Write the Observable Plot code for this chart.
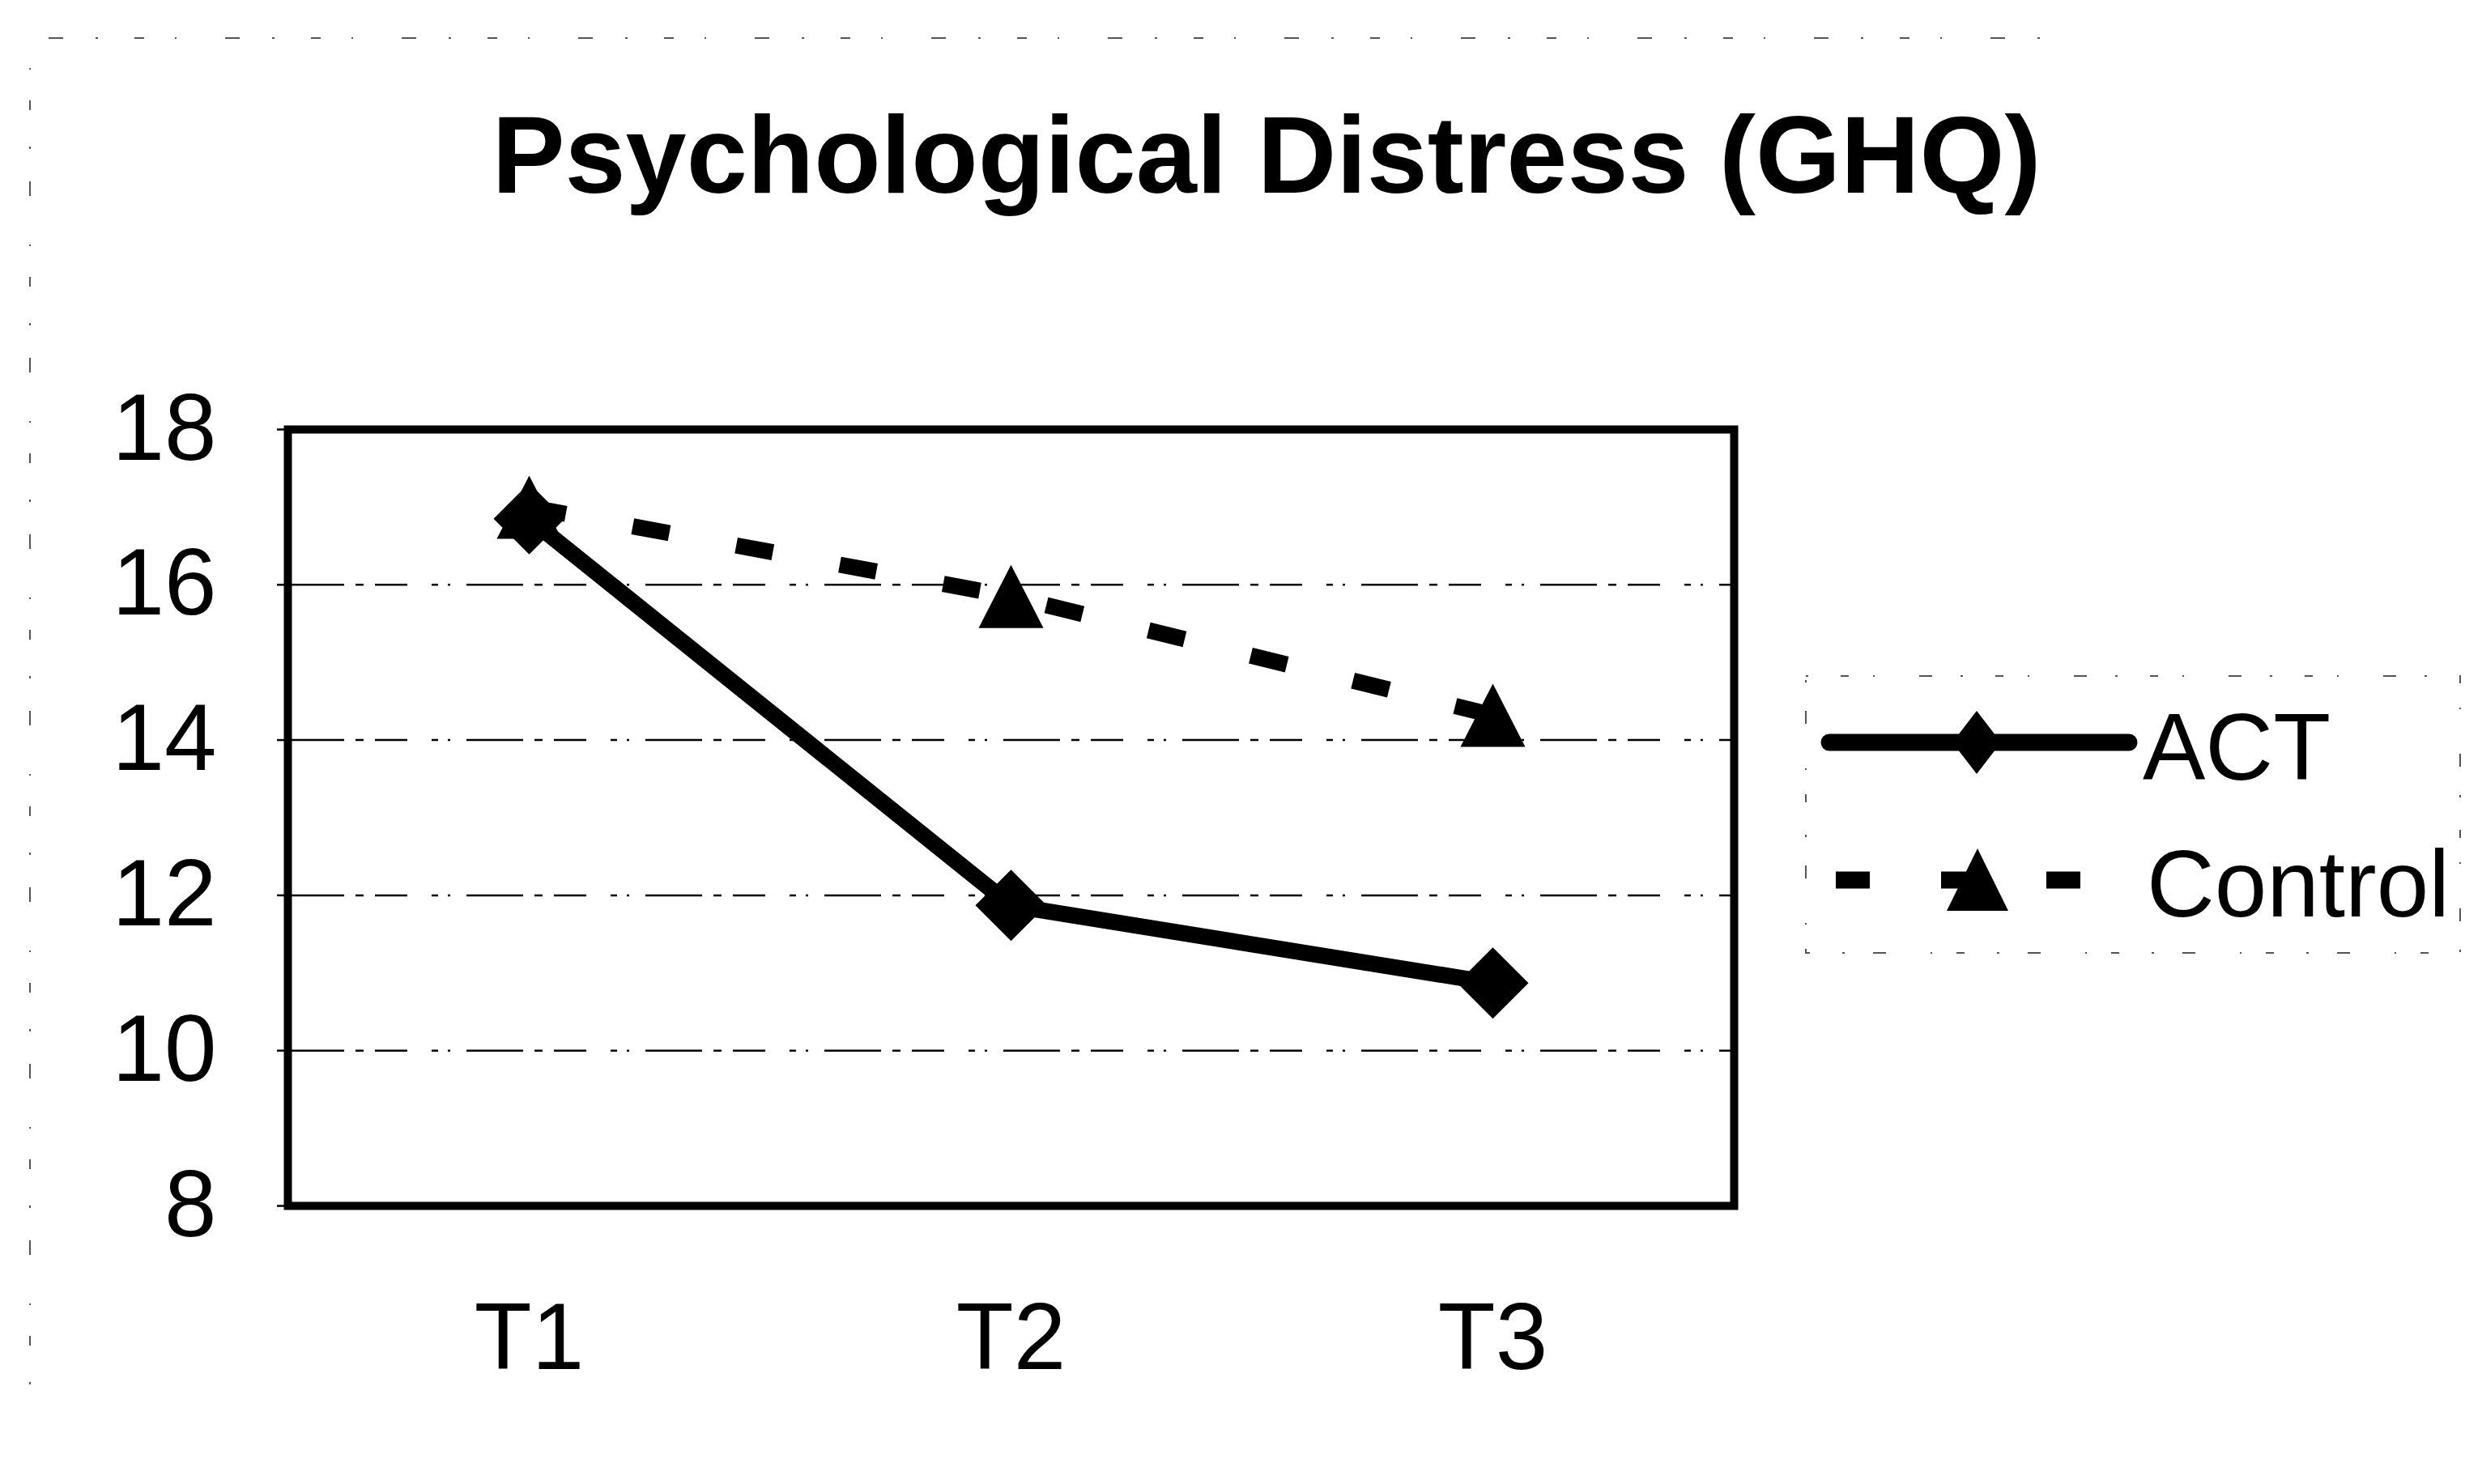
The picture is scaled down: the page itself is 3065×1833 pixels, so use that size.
<!DOCTYPE html>
<html>
<head>
<meta charset="utf-8">
<script src="https://cdn.jsdelivr.net/npm/d3@7"></script>
<script src="https://cdn.jsdelivr.net/npm/@observablehq/plot@0.6"></script>
<style>
  html, body { margin: 0; padding: 0; background: #fff; }
  #page { position: relative; width: 3065px; height: 1833px; background: #fff; overflow: hidden;
          font-family: "Liberation Sans", Arial, sans-serif; color: #000; }
  #title { position: absolute; left: 0; top: 0; width: 3065px; height: 300px; box-sizing: border-box;
           padding-left: 63px; padding-top: 124px; text-align: center; font-weight: bold;
           font-size: 135px; line-height: 135px; }
  #chart { position: absolute; left: 0; top: 300px; }
  #legend { position: absolute; left: 2200px; top: 800px; }
  #deco { position: absolute; left: 0; top: 0; pointer-events: none; }
</style>
</head>
<body>
<div id="page">
  <svg id="deco" width="3065" height="1833"></svg>
  <div id="title">Psychological Distress (GHQ)</div>
  <div id="chart"></div>
  <svg id="legend" width="865" height="420"></svg>
</div>
<script>
// ---- data ----
const categories = ["T1", "T2", "T3"];
const actValues = [16.85, 11.87, 10.87];
const controlValues = [17.0, 15.85, 14.32];
const seriesNames = ["ACT", "Control"];
const yTicks = [8, 10, 12, 14, 16, 18];
const titleText = "Psychological Distress (GHQ)";

const act = categories.map((t, i) => ({time: t, value: actValues[i], series: seriesNames[0]}));
const control = categories.map((t, i) => ({time: t, value: controlValues[i], series: seriesNames[1]}));

// custom marker shapes (size = pi r^2)
const diamondSym = {draw(ctx, size) { const s = Math.sqrt(size / Math.PI);
  ctx.moveTo(0, -s); ctx.lineTo(s, 0); ctx.lineTo(0, s); ctx.lineTo(-s, 0); ctx.closePath(); }};
const triangleSym = {draw(ctx, size) { const s = Math.sqrt(size / Math.PI);
  ctx.moveTo(0, -0.975 * s); ctx.lineTo(s, 0.975 * s); ctx.lineTo(-s, 0.975 * s); ctx.closePath(); }};

const font = "Liberation Sans, Arial, sans-serif";

const chart = Plot.plot({
  width: 3065,
  height: 1533,
  marginLeft: 355,
  marginRight: 924,
  marginTop: 230,
  marginBottom: 344,
  x: {type: "point", domain: categories, padding: 0.5},
  y: {domain: [8, 18]},
  style: {fontFamily: font, fontSize: "116px", color: "#000", background: "transparent", overflow: "visible"},
  marks: [
    Plot.gridY(yTicks.filter(t => t > 8 && t < 18), {
      stroke: "#000", strokeOpacity: 1, strokeWidth: 2.5, strokeDasharray: "70,14,10,14,40,30,8,12,3,20"
    }),
    Plot.axisY(yTicks, {tickSize: 13, tickPadding: 75, fontSize: 116, strokeWidth: 2.5, label: null,
      tickFormat: d => String(d)}),
    Plot.axisX({tickSize: 0, tickPadding: 119, fontSize: 116, label: null}),
    Plot.frame({stroke: "#000", strokeWidth: 10}),
    Plot.line(control, {x: "time", y: "value", stroke: "#000", strokeWidth: 20,
      strokeDasharray: "46,84", strokeLinecap: "butt"}),
    Plot.line(act, {x: "time", y: "value", stroke: "#000", strokeWidth: 20, strokeLinejoin: "round"}),
    Plot.dot(control, {x: "time", y: "value", symbol: triangleSym, r: 40, fill: "#000"}),
    Plot.dot(act, {x: "time", y: "value", symbol: diamondSym, r: 44, fill: "#000"})
  ]
});
document.getElementById("chart").appendChild(chart);
document.getElementById("title").textContent = titleText;

// ---- legend ----
const lg = d3.select("#legend");
lg.append("rect").attr("x", 30).attr("y", 35).attr("width", 808).attr("height", 342)
  .attr("fill", "none").attr("stroke", "#555").attr("stroke-width", 2)
  .attr("stroke-dasharray", "3,40,10,30,2,55,16,35");
// ACT entry
lg.append("line").attr("x1", 59).attr("x2", 429).attr("y1", 117).attr("y2", 117)
  .attr("stroke", "#000").attr("stroke-width", 21).attr("stroke-linecap", "round");
lg.append("path").attr("d", "M241,78L271,117L241,156L211,117Z").attr("fill", "#000");
lg.append("text").attr("x", 446).attr("y", 163).attr("font-family", font).attr("font-size", 116)
  .text(seriesNames[0]);
// Control entry
lg.append("line").attr("x1", 67).attr("x2", 370).attr("y1", 287).attr("y2", 287)
  .attr("stroke", "#000").attr("stroke-width", 21).attr("stroke-dasharray", "42,88");
lg.append("path").attr("d", "M242,248L280,325L204,325Z").attr("fill", "#000");
lg.append("text").attr("x", 451).attr("y", 332).attr("font-family", font).attr("font-size", 116)
  .text(seriesNames[1]);

// ---- faint outer chart-area border (scan remnants) ----
const deco = d3.select("#deco");
deco.append("path").attr("d", "M37,1710L37,47L2545,47").attr("fill", "none")
  .attr("stroke", "#555").attr("stroke-width", 2).attr("stroke-dasharray", "3,45,12,38,2,60,18,40");
</script>
</body>
</html>
